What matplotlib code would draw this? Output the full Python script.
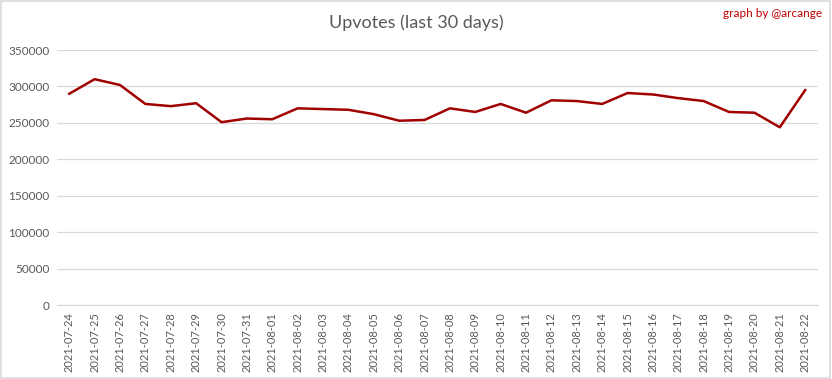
import matplotlib
matplotlib.use("Agg")
import matplotlib.pyplot as plt
from matplotlib.patches import Rectangle

# Daily upvotes
dates = [
    "2021-07-24", "2021-07-25", "2021-07-26", "2021-07-27", "2021-07-28",
    "2021-07-29", "2021-07-30", "2021-07-31", "2021-08-01", "2021-08-02",
    "2021-08-03", "2021-08-04", "2021-08-05", "2021-08-06", "2021-08-07",
    "2021-08-08", "2021-08-09", "2021-08-10", "2021-08-11", "2021-08-12",
    "2021-08-13", "2021-08-14", "2021-08-15", "2021-08-16", "2021-08-17",
    "2021-08-18", "2021-08-19", "2021-08-20", "2021-08-21", "2021-08-22",
]
upvotes = [
    290000, 310000, 302000, 276000, 273000,
    277000, 251000, 256000, 255000, 270000,
    269000, 268000, 262000, 253000, 254000,
    270000, 265000, 276000, 264000, 281000,
    280000, 276000, 291000, 289000, 284000,
    280000, 265000, 264000, 244000, 295000,
]
y_ticks = [0, 50000, 100000, 150000, 200000, 250000, 300000, 350000]

TEXT_GRAY = "#595959"
GRID_GRAY = "#d9d9d9"
LINE_RED = "#a00000"

plt.rcParams["font.family"] = ["Lato", "DejaVu Sans"]

fig = plt.figure(figsize=(8.32, 3.79), dpi=100)
ax = fig.add_axes([0.068, 0.195, 0.915, 0.673])

x = list(range(len(dates)))
ax.plot(x, upvotes, color=LINE_RED, linewidth=1.8, solid_joinstyle="round")

ax.set_xlim(-0.5, len(dates) - 0.5)
ax.set_ylim(0, 350000)
ax.set_yticks(y_ticks)
ax.set_yticklabels([str(v) for v in y_ticks], color=TEXT_GRAY, fontsize=8.5)
ax.set_xticks(x)
ax.set_xticklabels(dates, rotation=90, color=TEXT_GRAY, fontsize=8)

ax.grid(axis="y", color=GRID_GRAY, linewidth=0.9)
ax.set_axisbelow(True)
for side in ["top", "right", "left"]:
    ax.spines[side].set_visible(False)
ax.spines["bottom"].set_color(GRID_GRAY)
ax.tick_params(axis="both", length=0, pad=5)

fig.text(0.5, 0.94, "Upvotes (last 30 days)", ha="center", va="center",
         fontsize=13, color=TEXT_GRAY)
fig.text(0.988, 0.965, "graph by @arcange", ha="right", va="center",
         fontsize=8.5, color="#c00000")

# light frame around the whole chart
fig.patches.append(Rectangle((0.001, 0.002), 0.997, 0.995, transform=fig.transFigure,
                             fill=False, edgecolor=GRID_GRAY, linewidth=1.2))

fig.savefig("out.png", dpi=100)
